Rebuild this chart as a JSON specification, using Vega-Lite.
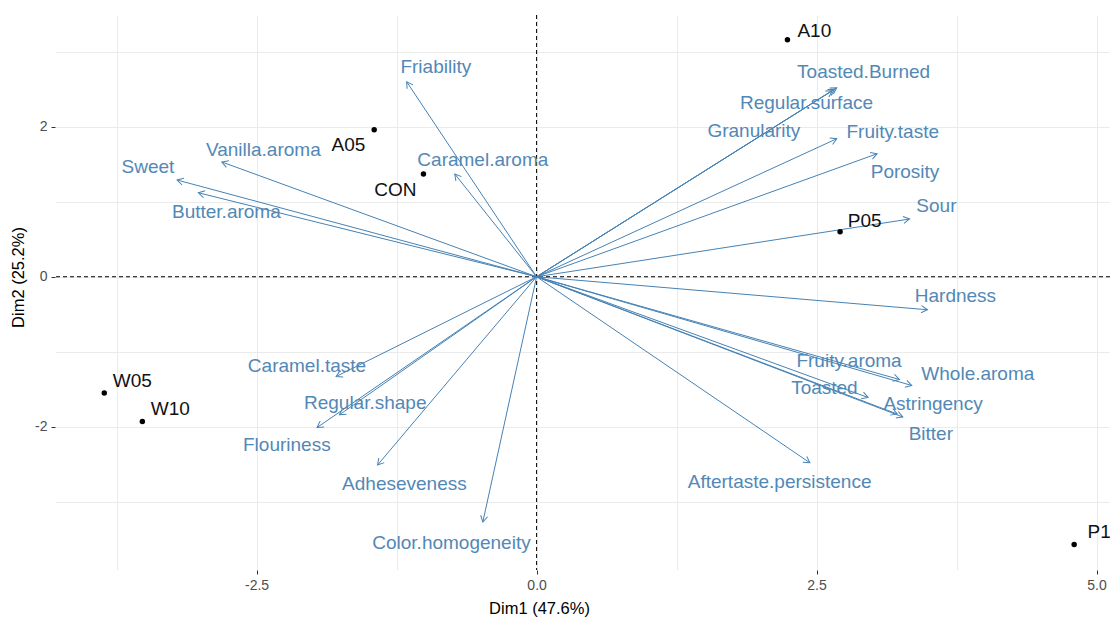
{
  "$schema": "https://vega.github.io/schema/vega-lite/v6.json",
  "width": 1055,
  "height": 555,
  "autosize": {"type": "none"},
  "padding": {"left": 55, "top": 15, "right": 0, "bottom": 49},
  "background": "white",
  "config": {
    "view": {"stroke": null},
    "font": "Liberation Sans",
    "axis": {
      "grid": true, "gridColor": "#EBEBEB", "gridWidth": 1,
      "domain": false, "tickSize": 4, "tickWidth": 1,
      "labelColor": "#4D4D4D", "labelFontSize": 14, "labelPadding": 4,
      "titleFontSize": 16.5, "titleColor": "#000000", "titleFontWeight": "normal"
    },
    "axisX": {"titleX": 484, "titleY": 43, "titleBaseline": "alphabetic"},
    "axisY": {"titleX": -37, "titleY": 262, "titleBaseline": "middle", "titleAlign": "center", "titleAngle": -90}
  },
  "datasets": {
    "vars": [
      {"name": "Friability", "x": -1.16, "y": 2.60, "lx": -0.90, "ly": 2.80},
      {"name": "Vanilla.aroma", "x": -2.81, "y": 1.53, "lx": -2.44, "ly": 1.69},
      {"name": "Sweet", "x": -3.21, "y": 1.29, "lx": -3.47, "ly": 1.47},
      {"name": "Butter.aroma", "x": -3.02, "y": 1.12, "lx": -2.77, "ly": 0.87},
      {"name": "Caramel.aroma", "x": -0.73, "y": 1.37, "lx": -0.48, "ly": 1.56},
      {"name": "Toasted.Burned", "x": 2.68, "y": 2.52, "lx": 2.92, "ly": 2.73},
      {"name": "Regular.surface", "x": 2.66, "y": 2.50, "lx": 2.41, "ly": 2.32},
      {"name": "Granularity", "x": 2.64, "y": 2.48, "lx": 1.94, "ly": 1.95},
      {"name": "Fruity.taste", "x": 2.68, "y": 1.84, "lx": 3.18, "ly": 1.93},
      {"name": "Porosity", "x": 3.04, "y": 1.64, "lx": 3.29, "ly": 1.40},
      {"name": "Sour", "x": 3.33, "y": 0.77, "lx": 3.57, "ly": 0.95},
      {"name": "Hardness", "x": 3.49, "y": -0.44, "lx": 3.74, "ly": -0.25},
      {"name": "Fruity.aroma", "x": 3.24, "y": -1.37, "lx": 2.79, "ly": -1.12},
      {"name": "Whole.aroma", "x": 3.35, "y": -1.45, "lx": 3.94, "ly": -1.29},
      {"name": "Toasted", "x": 2.96, "y": -1.61, "lx": 2.57, "ly": -1.48},
      {"name": "Astringency", "x": 3.22, "y": -1.83, "lx": 3.54, "ly": -1.69},
      {"name": "Bitter", "x": 3.27, "y": -1.87, "lx": 3.52, "ly": -2.09},
      {"name": "Aftertaste.persistence", "x": 2.44, "y": -2.48, "lx": 2.17, "ly": -2.73},
      {"name": "Caramel.taste", "x": -1.79, "y": -1.33, "lx": -2.05, "ly": -1.19},
      {"name": "Regular.shape", "x": -1.76, "y": -1.84, "lx": -1.53, "ly": -1.68},
      {"name": "Flouriness", "x": -1.96, "y": -2.01, "lx": -2.23, "ly": -2.24},
      {"name": "Adheseveness", "x": -1.42, "y": -2.51, "lx": -1.18, "ly": -2.76},
      {"name": "Color.homogeneity", "x": -0.48, "y": -3.27, "lx": -0.76, "ly": -3.55}
    ],
    "ind": [
      {"name": "A10", "x": 2.24, "y": 3.16, "lx": 2.48, "ly": 3.28},
      {"name": "A05", "x": -1.45, "y": 1.96, "lx": -1.68, "ly": 1.76},
      {"name": "CON", "x": -1.01, "y": 1.37, "lx": -1.26, "ly": 1.16},
      {"name": "P05", "x": 2.71, "y": 0.60, "lx": 2.93, "ly": 0.75},
      {"name": "W05", "x": -3.86, "y": -1.55, "lx": -3.61, "ly": -1.39},
      {"name": "W10", "x": -3.52, "y": -1.93, "lx": -3.27, "ly": -1.76},
      {"name": "P10", "x": 4.80, "y": -3.57, "lx": 5.07, "ly": -3.40}
    ],
    "origin": [{"zero": 0}]
  },
  "layer": [
    {
      "data": {"name": "origin"},
      "mark": {"type": "rule", "stroke": "black", "strokeWidth": 1, "strokeDash": [4, 3]},
      "encoding": {
        "y": {
          "field": "zero", "type": "quantitative",
          "scale": {"domain": [-3.91, 3.49], "nice": false, "zero": false},
          "axis": {
            "title": "Dim2 (25.2%)",
            "values": [-3, -2, -1, 0, 1, 2, 3],
            "labelExpr": "datum.value % 2 == 0 ? replace(format(datum.value, 'd'), '\u2212', '-') : ''",
            "tickColor": {"condition": {"test": "datum.value % 2 != 0", "value": "transparent"}, "value": "#333333"}
          }
        }
      }
    },
    {
      "data": {"name": "origin"},
      "mark": {"type": "rule", "stroke": "black", "strokeWidth": 1, "strokeDash": [4, 3]},
      "encoding": {
        "x": {
          "field": "zero", "type": "quantitative",
          "scale": {"domain": [-4.3, 5.12], "nice": false, "zero": false},
          "axis": {
            "title": "Dim1 (47.6%)",
            "values": [-3.75, -2.5, -1.25, 0, 1.25, 2.5, 3.75, 5],
            "labelExpr": "abs(datum.value % 2.5) < 0.001 ? replace(format(datum.value, '.1f'), '\u2212', '-') : ''",
            "tickColor": {"condition": {"test": "abs(datum.value % 2.5) > 0.001", "value": "transparent"}, "value": "#333333"}
          }
        }
      }
    },
    {
      "data": {"name": "vars"},
      "mark": {"type": "rule", "stroke": "steelblue", "strokeWidth": 1},
      "encoding": {
        "x": {"field": "x", "type": "quantitative", "title": "Dim1 (47.6%)"},
        "y": {"field": "y", "type": "quantitative", "title": "Dim2 (25.2%)"},
        "x2": {"datum": 0},
        "y2": {"datum": 0}
      }
    },
    {
      "data": {"name": "vars"},
      "transform": [{"calculate": "atan2(-datum.y * 75.0, datum.x * 112.0) * 180 / PI", "as": "angle"}],
      "mark": {"type": "point", "shape": "M -1.732 -1 L 0 0 L -1.732 1", "filled": false, "stroke": "steelblue", "strokeWidth": 1, "size": 50, "opacity": 1},
      "encoding": {
        "x": {"field": "x", "type": "quantitative", "title": "Dim1 (47.6%)"},
        "y": {"field": "y", "type": "quantitative", "title": "Dim2 (25.2%)"},
        "angle": {"field": "angle", "type": "quantitative", "scale": null}
      }
    },
    {
      "data": {"name": "vars"},
      "mark": {"type": "text", "fontSize": 19, "align": "center", "baseline": "middle", "color": "#5288B6"},
      "encoding": {
        "x": {"field": "lx", "type": "quantitative", "title": "Dim1 (47.6%)"},
        "y": {"field": "ly", "type": "quantitative", "title": "Dim2 (25.2%)"},
        "text": {"field": "name"}
      }
    },
    {
      "data": {"name": "ind"},
      "mark": {"type": "point", "shape": "circle", "filled": true, "color": "black", "size": 30, "opacity": 1},
      "encoding": {
        "x": {"field": "x", "type": "quantitative", "title": "Dim1 (47.6%)"},
        "y": {"field": "y", "type": "quantitative", "title": "Dim2 (25.2%)"}
      }
    },
    {
      "data": {"name": "ind"},
      "mark": {"type": "text", "fontSize": 19, "align": "center", "baseline": "middle", "color": "#111111"},
      "encoding": {
        "x": {"field": "lx", "type": "quantitative", "title": "Dim1 (47.6%)"},
        "y": {"field": "ly", "type": "quantitative", "title": "Dim2 (25.2%)"},
        "text": {"field": "name"}
      }
    }
  ]
}
